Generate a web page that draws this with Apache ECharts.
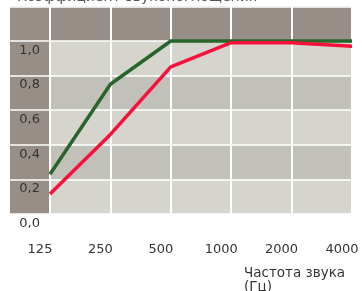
<!DOCTYPE html>
<html>
<head>
<meta charset="utf-8">
<script src="https://cdn.jsdelivr.net/npm/echarts@6/dist/echarts.min.js"></script>
<style>
  html, body { margin: 0; padding: 0; background: #fff; }
  #main { width: 362px; height: 291px; }
</style>
</head>
<body>
<div id="main"></div>
<script>
// частоты и коэффициенты
var freqs = ['125', '250', '500', '1000', '2000', '4000']
var greenVals = [0.23, 0.75, 1.0, 1.0, 1.0, 1.0]
var redVals = [0.115, 0.46, 0.85, 0.99, 0.99, 0.97]
var yTicks = ['0,0', '0,2', '0,4', '0,6', '0,8', '1,0']

var myChart = echarts.init(document.getElementById('main'))
var option

var dark = '#988e88'
var light = '#d5d5cd'
var mid = '#c2c1b9'
var font = 'DejaVu Sans'

option = {
  animation: false,
  backgroundColor: '#fff',
  title: [
    {
      text: 'Коэффициент звукопоглощения',
      left: 12,
      top: -15,
      textStyle: { color: '#555', fontWeight: 'normal', fontSize: 14, fontFamily: font }
    },
    {
      // подпись оси X
      text: 'Частота звука\n(Гц)',
      left: 244,
      top: 266,
      padding: 0,
      textStyle: { color: '#333', fontWeight: 'normal', fontSize: 13.5, lineHeight: 14, fontFamily: font }
    }
  ],
  grid: [
    { left: 50, right: 10, top: 6.4, bottom: 77, outerBoundsMode: 'none' },
    { left: 10, width: 40, top: 6.4, bottom: 77, outerBoundsMode: 'none' } // левая колонка
  ],
  xAxis: [
    {
      type: 'category',
      gridIndex: 0,
      data: freqs,
      boundaryGap: false,
      axisLine: { show: false },
      axisTick: { show: false },
      axisLabel: {
        interval: 0,
        color: '#333',
        fontSize: 13,
        fontFamily: font,
        margin: 29,
        padding: [0, 20, 0, 0]
      },
      splitLine: { show: true, interval: 0, lineStyle: { color: '#fff', width: 2 } }
    },
    {
      type: 'value',
      gridIndex: 1,
      show: false
    }
  ],
  yAxis: [
    {
      type: 'value',
      gridIndex: 0,
      min: 0,
      max: 1.2,
      interval: 0.2,
      axisLine: { show: false },
      axisTick: { show: false },
      axisLabel: {
        color: '#333',
        fontSize: 13,
        fontFamily: font,
        margin: 10,
        verticalAlign: 'top',
        padding: [3, 0, 0, 0],
        formatter: function(v, i) {
          return yTicks[i] || ''
        }
      },
      splitLine: { show: true, lineStyle: { color: '#fff', width: 1.5 } },
      splitArea: {
        show: true,
        areaStyle: { color: [light, mid, light, mid, light, dark] }
      }
    },
    {
      type: 'value',
      gridIndex: 1,
      min: 0,
      max: 1.2,
      interval: 0.2,
      axisLine: { show: false },
      axisTick: { show: false },
      axisLabel: { show: false },
      splitLine: { show: true, lineStyle: { color: '#fff', width: 1.5 } },
      splitArea: { show: true, areaStyle: { color: [dark] } }
    }
  ],
  series: [
    {
      name: 'green',
      type: 'line',
      data: greenVals,
      symbol: 'none',
      lineStyle: { color: '#27652a', width: 3.5 },
      z: 3
    },
    {
      name: 'red',
      type: 'line',
      data: redVals,
      symbol: 'none',
      lineStyle: { color: '#f7113a', width: 3.5 },
      z: 4
    }
  ]
}

option && myChart.setOption(option)
</script>
</body>
</html>
